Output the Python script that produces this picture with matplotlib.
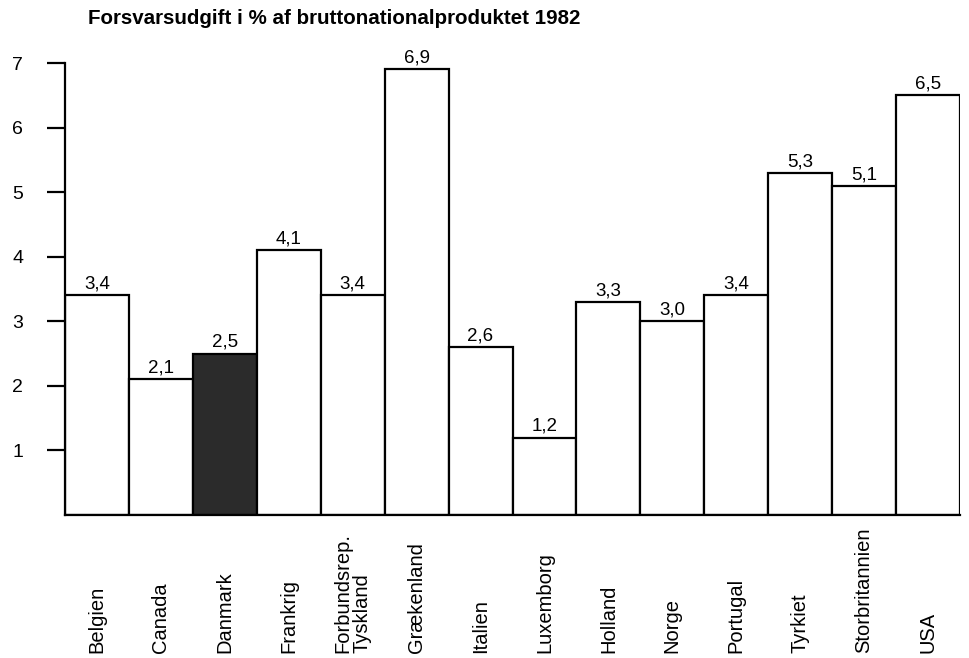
import matplotlib.pyplot as plt
from matplotlib.transforms import blended_transform_factory

# Data
lande = ["Belgien", "Canada", "Danmark", "Frankrig", "Forbundsrep.\nTyskland",
         "Grækenland", "Italien", "Luxemborg", "Holland", "Norge", "Portugal",
         "Tyrkiet", "Storbritannien", "USA"]
vaerdier = [3.4, 2.1, 2.5, 4.1, 3.4, 6.9, 2.6, 1.2, 3.3, 3.0, 3.4, 5.3, 5.1, 6.5]
y_ticks = [1, 2, 3, 4, 5, 6, 7]

plt.rcParams["font.family"] = ["Liberation Sans", "DejaVu Sans"]

fig = plt.figure(figsize=(9.69, 6.58), dpi=100)
ax = fig.add_axes([65 / 969, 143 / 658, 895 / 969, 452 / 658])

farver = ["#2b2b2b" if l == "Danmark" else "white" for l in lande]
x = list(range(len(lande)))
ax.bar([i + 0.5 for i in x], vaerdier, width=1.0, color=farver,
       edgecolor="black", linewidth=1.6)

for i, v in enumerate(vaerdier):
    ax.text(i + 0.5, v + 0.04, f"{v:.1f}".replace(".", ","), ha="center",
            va="bottom", fontsize=13.5, clip_on=False)

trans = blended_transform_factory(ax.transData, fig.transFigure)
for i, l in enumerate(lande):
    ax.text(i + 0.5, 5 / 658, l, rotation=90, ha="center", va="bottom",
            ma="left", fontsize=14.5, transform=trans, linespacing=1.0)

ax.set_xlim(0, 14)
ax.set_ylim(0, 7)
ax.set_xticks([])
ax.set_yticks(y_ticks)
ax.set_yticklabels([str(t) for t in y_ticks], fontsize=14)
ax.tick_params(axis="y", length=13, width=1.6, pad=17, direction="out")
for s in ["top", "right"]:
    ax.spines[s].set_visible(False)
ax.spines["left"].set_linewidth(1.6)
ax.spines["bottom"].set_linewidth(1.6)

fig.text(88 / 969, 1 - 18 / 658, "Forsvarsudgift i % af bruttonationalproduktet 1982",
         fontsize=14.8, fontweight="bold", ha="left", va="center")

fig.savefig("out.png", dpi=100)
